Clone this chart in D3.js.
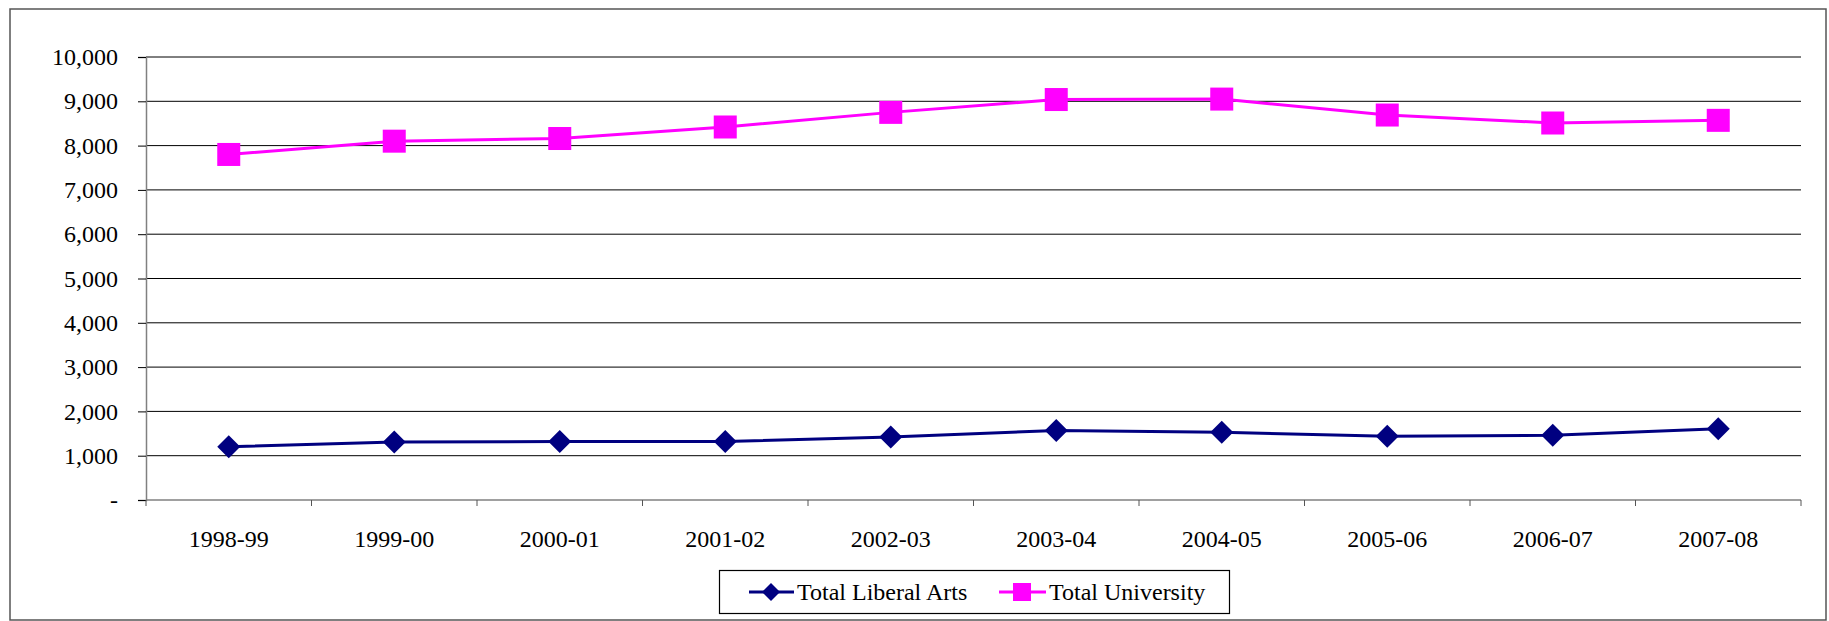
<!DOCTYPE html>
<html>
<head>
<meta charset="utf-8">
<script src="https://cdn.jsdelivr.net/npm/d3@7"></script>
<style>
  body { margin: 0; background: #fff; }
</style>
</head>
<body>
<svg id="chart"></svg>
<script>
const width = 1829;
const height = 621;
const serif = '"Liberation Serif", "Times New Roman", "DejaVu Serif", serif';

const years = ['1998-99', '1999-00', '2000-01', '2001-02', '2002-03', '2003-04', '2004-05', '2005-06', '2006-07', '2007-08'];
const liberalArts = [1200, 1310, 1320, 1320, 1420, 1570, 1530, 1440, 1460, 1610];
const university = [7800, 8100, 8160, 8420, 8750, 9040, 9050, 8690, 8510, 8570];
const yTicks = [0, 1000, 2000, 3000, 4000, 5000, 6000, 7000, 8000, 9000, 10000];

const plot = { left: 146, right: 1801, top: 57, bottom: 500 };

const svg = d3.select('#chart').attr('width', width).attr('height', height);

// outer chart border
svg.append('rect')
	.attr('x', 10).attr('y', 9)
	.attr('width', 1816).attr('height', 611)
	.attr('fill', '#fff')
	.attr('stroke', '#555')
	.attr('stroke-width', 1.5);

const x = d3.scaleBand().domain(years).range([plot.left, plot.right]);
const y = d3.scaleLinear().domain([0, 10000]).range([plot.bottom, plot.top]);

// gridlines
svg.append('g')
	.selectAll('line')
	.data(yTicks.filter((d) => d > 0))
	.enter()
	.append('line')
	.attr('x1', plot.left).attr('x2', plot.right)
	.attr('y1', (d) => y(d)).attr('y2', (d) => y(d))
	.attr('stroke', '#000')
	.attr('stroke-width', 1);

// y axis
const yAxis = svg.append('g')
	.attr('transform', `translate(${plot.left},0)`)
	.call(d3.axisLeft(y).tickValues(yTicks).tickSize(8).tickPadding(20)
		.tickFormat((d) => (d === 0 ? '-' : d3.format(',')(d))));
yAxis.attr('font-family', null);
yAxis.select('.domain').attr('stroke', '#808080').attr('stroke-width', 1.5);
yAxis.selectAll('.tick line').attr('stroke', '#000');
yAxis.selectAll('.tick text')
	.style('font-family', serif)
	.style('font-size', '24px')
	.attr('fill', '#000');

// x axis with ticks at category boundaries
const xAxis = svg.append('g').attr('transform', `translate(0,${plot.bottom})`);
xAxis.append('line')
	.attr('x1', plot.left).attr('x2', plot.right)
	.attr('stroke', '#808080').attr('stroke-width', 1.5);
xAxis.selectAll('.tk')
	.data(years.concat(['end']))
	.enter()
	.append('line')
	.attr('class', 'tk')
	.attr('x1', (d, i) => plot.left + i * x.bandwidth())
	.attr('x2', (d, i) => plot.left + i * x.bandwidth())
	.attr('y1', 0).attr('y2', 6)
	.attr('stroke', '#555');
xAxis.selectAll('.lbl')
	.data(years)
	.enter()
	.append('text')
	.attr('class', 'lbl')
	.attr('x', (d) => x(d) + x.bandwidth() / 2)
	.attr('y', 47)
	.attr('text-anchor', 'middle')
	.style('font-family', serif)
	.style('font-size', '24px')
	.text((d) => d);

const cx = (d, i) => x(years[i]) + x.bandwidth() / 2;
const line = d3.line().x((d, i) => cx(d, i)).y((d) => y(d));

// Total University
svg.append('path')
	.datum(university)
	.attr('d', line)
	.attr('fill', 'none')
	.attr('stroke', '#FF00FF')
	.attr('stroke-width', 3);
svg.append('g')
	.selectAll('rect')
	.data(university)
	.enter()
	.append('rect')
	.attr('x', (d, i) => cx(d, i) - 11.5)
	.attr('y', (d) => y(d) - 11.5)
	.attr('width', 23).attr('height', 23)
	.attr('fill', '#FF00FF');

// Total Liberal Arts
const diamond = (s) => `M0,${-s}L${s},0L0,${s}L${-s},0Z`;
svg.append('path')
	.datum(liberalArts)
	.attr('d', line)
	.attr('fill', 'none')
	.attr('stroke', '#000080')
	.attr('stroke-width', 3);
svg.append('g')
	.selectAll('path')
	.data(liberalArts)
	.enter()
	.append('path')
	.attr('d', diamond(11.5))
	.attr('transform', (d, i) => `translate(${cx(d, i)},${y(d)})`)
	.attr('fill', '#000080');

// legend
const legend = svg.append('g');
legend.append('rect')
	.attr('x', 719.5).attr('y', 570.5)
	.attr('width', 510).attr('height', 43)
	.attr('fill', '#fff')
	.attr('stroke', '#000')
	.attr('stroke-width', 1.2);

const ly = 592;
legend.append('line').attr('x1', 749).attr('x2', 794).attr('y1', ly).attr('y2', ly)
	.attr('stroke', '#000080').attr('stroke-width', 3);
legend.append('path').attr('d', diamond(9)).attr('transform', `translate(771,${ly})`).attr('fill', '#000080');
legend.append('text').attr('x', 797).attr('y', ly + 8)
	.style('font-family', serif).style('font-size', '24px').text('Total Liberal Arts');

legend.append('line').attr('x1', 999).attr('x2', 1046).attr('y1', ly).attr('y2', ly)
	.attr('stroke', '#FF00FF').attr('stroke-width', 3);
legend.append('rect').attr('x', 1013).attr('y', ly - 9).attr('width', 18).attr('height', 18).attr('fill', '#FF00FF');
legend.append('text').attr('x', 1049).attr('y', ly + 8)
	.style('font-family', serif).style('font-size', '24px').text('Total University');
</script>
</body>
</html>
